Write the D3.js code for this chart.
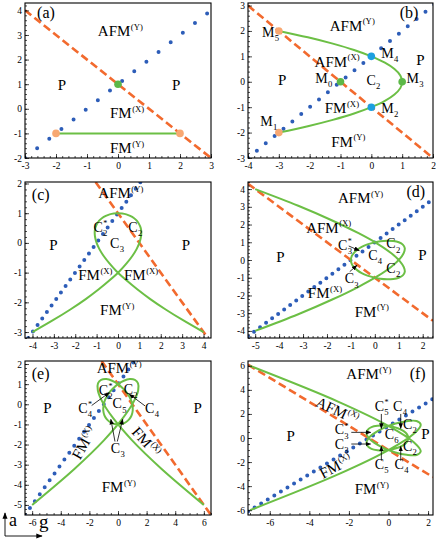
<!DOCTYPE html>
<html>
<head>
<meta charset="utf-8">
<script src="https://cdnjs.cloudflare.com/ajax/libs/d3/7.8.5/d3.min.js"></script>
<style>
  body { margin: 0; background: #fff; }
  svg { display: block; }
  text { font-family: "Liberation Serif", "Times New Roman", serif; fill: #000; }
</style>
</head>
<body>
<svg id="chart" width="436" height="540"></svg>
<script>
// ---------- data (g on x, a on y), one entry per panel (a)..(f) ----------
const panelNames = ["(a)", "(b)", "(c)", "(d)", "(e)", "(f)"];

const gRanges = [[-3, 3], [-4, 2], [-4.35, 4.35], [-5.3, 2.43], [-6.5, 6.5], [-7.1, 2.25]];
const aRanges = [[-2, 4.3], [-3, 3.1], [-3.2, 2.05], [-4.4, 4.4], [-5.5, 2.15], [-6.4, 6.4]];

const gTicks = [
  [-3, -2, -1, 0, 1, 2, 3],
  [-4, -3, -2, -1, 0, 1, 2],
  [-4, -3, -2, -1, 0, 1, 2, 3, 4],
  [-5, -4, -3, -2, -1, 0, 1, 2],
  [-6, -4, -2, 0, 2, 4, 6],
  [-6, -4, -2, 0, 2]
];
const aTicks = [
  [-2, -1, 0, 1, 2, 3, 4],
  [-3, -2, -1, 0, 1, 2, 3],
  [-3, -2, -1, 0, 1, 2],
  [-4, -3, -2, -1, 0, 1, 2, 3, 4],
  [-5, -4, -3, -2, -1, 0, 1, 2],
  [-6, -4, -2, 0, 2, 4, 6]
];
const minorSteps = [[0.2, 0.2], [0.2, 0.2], [0.2, 0.2], [0.2, 0.2], [0.5, 0.2], [0.5, 0.5]];

// blue dotted line a = g + 1 type boundary
const blueLines = [
  [[-3, -2], [3.3, 4.3]],
  [[-4, -3], [2.1, 3.1]],
  [[-4.2, -3.2], [1.05, 2.05]],
  [[-5.3, -4.3], [2.43, 3.43]],
  [[-6.5, -5.5], [1.15, 2.15]],
  [[-7.1, -6.1], [2.25, 3.25]]
];
// orange dashed line
const orangeLines = [
  [[-3, 4], [3, -2]],
  [[-4, 3], [2, -3]],
  [[-1.05, 2.05], [4.2, -3.2]],
  [[-5.3, 4.3], [2.43, -3.43]],
  [[-1.15, 2.15], [6.5, -5.5]],
  [[-7.1, 6.1], [2.25, -3.25]]
];

// green boundary curves
const greenA = [[-2, -1], [2, -1]];
const greenB = [[-3, -2], [-2.06, -1.75], [-1.25, -1.5], [-0.56, -1.25], [0, -1], [0.44, -0.75], [0.75, -0.5],
  [0.94, -0.25], [1, 0], [0.94, 0.25], [0.75, 0.5], [0.44, 0.75], [0, 1], [-0.56, 1.25], [-1.25, 1.5],
  [-2.06, 1.75], [-3, 2]];
const greenC = [[4, -3], [3.06, -2.61], [2.23, -2.24], [1.51, -1.89], [0.90, -1.56], [0.38, -1.25], [-0.06, -0.96],
  [-0.40, -0.69], [-0.67, -0.44], [-0.87, -0.21], [-1, 0], [-1.07, 0.19], [-1.09, 0.36], [-1.06, 0.51],
  [-0.98, 0.64], [-0.88, 0.75], [-0.74, 0.84], [-0.57, 0.91], [-0.39, 0.96], [-0.20, 0.99], [0, 1],
  [0.20, 0.99], [0.39, 0.96], [0.57, 0.91], [0.74, 0.84], [0.88, 0.75], [0.98, 0.64], [1.06, 0.51],
  [1.09, 0.36], [1.07, 0.19], [1, 0], [0.87, -0.21], [0.67, -0.44], [0.40, -0.69], [0.06, -0.96],
  [-0.38, -1.25], [-0.90, -1.56], [-1.51, -1.89], [-2.23, -2.24], [-3.06, -2.61], [-4, -3]];
const greenD = [[-5, 4], [-3.20, 3.06], [-1.78, 2.23], [-0.68, 1.51], [0.13, 0.90], [0.69, 0.38], [1.04, -0.06],
  [1.21, -0.40], [1.25, -0.67], [1.17, -0.87], [1, -1], [0.77, -1.07], [0.51, -1.09], [0.23, -1.06],
  [-0.05, -0.98], [-0.31, -0.88], [-0.55, -0.74], [-0.74, -0.57], [-0.88, -0.39], [-0.97, -0.20], [-1, 0],
  [-0.97, 0.20], [-0.88, 0.39], [-0.74, 0.57], [-0.55, 0.74], [-0.31, 0.88], [-0.05, 0.98], [0.23, 1.06],
  [0.51, 1.09], [0.77, 1.07], [1, 1], [1.17, 0.87], [1.25, 0.67], [1.21, 0.40], [1.04, 0.06], [0.69, -0.38],
  [0.13, -0.90], [-0.68, -1.51], [-1.78, -2.23], [-3.20, -3.06], [-5, -4]];
const greenE = [[6, -5], [3.03, -3.20], [0.97, -1.78], [-0.35, -0.68], [-1.10, 0.13], [-1.41, 0.69], [-1.40, 1.04],
  [-1.18, 1.21], [-0.82, 1.25], [-0.41, 1.17], [0, 1], [0.37, 0.77], [0.68, 0.51], [0.90, 0.23], [1.01, -0.05],
  [1.03, -0.31], [0.95, -0.55], [0.79, -0.74], [0.57, -0.88], [0.30, -0.97], [0, -1], [-0.30, -0.97],
  [-0.57, -0.88], [-0.79, -0.74], [-0.95, -0.55], [-1.03, -0.31], [-1.01, -0.05], [-0.90, 0.23], [-0.68, 0.51],
  [-0.37, 0.77], [0, 1], [0.41, 1.17], [0.82, 1.25], [1.18, 1.21], [1.40, 1.04], [1.41, 0.69], [1.10, 0.13],
  [0.35, -0.68], [-0.97, -1.78], [-3.03, -3.20], [-6, -5]];
const greenF = [[-7, 6], [-2.55, 3.03], [0.04, 0.97], [1.28, -0.35], [1.63, -1.10], [1.42, -1.41], [0.92, -1.40],
  [0.31, -1.18], [-0.26, -0.82], [-0.71, -0.41], [-1, 0], [-1.11, 0.37], [-1.05, 0.68], [-0.86, 0.90],
  [-0.56, 1.01], [-0.20, 1.03], [0.16, 0.95], [0.50, 0.79], [0.77, 0.57], [0.94, 0.30], [1, 0], [0.94, -0.30],
  [0.77, -0.57], [0.50, -0.79], [0.16, -0.95], [-0.20, -1.03], [-0.56, -1.01], [-0.86, -0.90], [-1.05, -0.68],
  [-1.11, -0.37], [-1, 0], [-0.71, 0.41], [-0.26, 0.82], [0.31, 1.18], [0.92, 1.40], [1.42, 1.41], [1.63, 1.10],
  [1.28, 0.35], [0.04, -0.97], [-2.55, -3.03], [-7, -6]];
const greenCurves = [greenA, greenB, greenC, greenD, greenE, greenF];

// special points: [g, a, kind]
const markersA = [[0, 1, "green"], [-2, -1, "peach"], [2, -1, "peach"]];
const markersB = [[-3, 2, "peach"], [-3, -2, "peach"], [0, 1, "cyan"], [0, -1, "cyan"], [-1, 0, "green"], [1, 0, "green"]];
const markers = [markersA, markersB, [], [], [], []];

// phase labels: [text, subscript, superscript, g, a, rotation]
const labelsA = [["AFM", "", "(Y)", -0.65, 2.96], ["P", "", "", -1.94, 0.76], ["P", "", "", 1.74, 0.76],
  ["FM", "", "(X)", -0.26, -0.38], ["FM", "", "(Y)", -0.26, -1.8]];
const labelsB = [["AFM", "", "(Y)", -1.35, 2.01], ["AFM", "", "(X)", -1.84, 0.6], ["P", "", "", -3.03, -0.13],
  ["P", "", "", 1.46, 0.66], ["M", "0", "", -1.82, -0.06], ["C", "2", "", -0.16, -0.13], ["M", "3", "", 1.14, -0.06],
  ["M", "4", "", 0.32, 0.93], ["M", "2", "", 0.32, -1.24], ["FM", "", "(X)", -1.51, -1.24],
  ["FM", "", "(Y)", -1.3, -2.55], ["M", "5", "", -3.55, 1.78], ["M", "1", "", -3.6, -1.75]];
const labelsC = [["AFM", "", "(Y)", -0.92, 1.5], ["C", "2", "*", -1.15, 0.38], ["C", "2", "", 0.48, 0.38],
  ["C", "3", "", -0.37, -0.18], ["P", "", "", -3.21, -0.24], ["P", "", "", 2.98, -0.24],
  ["FM", "", "(X)", -1.86, -1.25], ["FM", "", "(X)", 0.28, -1.25], ["FM", "", "(Y)", -0.84, -2.42]];
const labelsD = [["AFM", "", "(Y)", -1.54, 3.2], ["AFM", "", "(X)", -2.87, 1.54], ["C", "3", "*", -1.54, 0.56],
  ["C", "4", "", -0.28, 0], ["C", "2", "", 0.48, 0.66], ["C", "2", "", 0.48, -0.75], ["P", "", "", 1.81, 0],
  ["P", "", "", -4.12, -0.1], ["C", "3", "", -1.26, -1.32], ["FM", "", "(X)", -2.8, -2.16],
  ["FM", "", "(Y)", -0.84, -3.2]];
const labelsE = [["AFM", "", "(Y)", -1.49, 1.55], ["C", "2", "*", -1.35, 0.45], ["C", "2", "", 0.4, 0.52],
  ["C", "5", "", -0.38, -0.2], ["C", "4", "*", -2.78, -0.42], ["C", "4", "", 1.89, -0.42],
  ["P", "", "", -5.22, -0.43], ["P", "", "", 5.27, -0.43], ["FM", "", "(X)", -2.66, -2.79, -60],
  ["FM", "", "(X)", 0.9, -1.4, 48], ["C", "3", "", -0.5, -2.43], ["FM", "", "(Y)", -1.14, -4.36]];
const labelsF = [["AFM", "", "(Y)", -2.13, 4.9], ["AFM", "", "(X)", -3.73, 2.69, 25], ["P", "", "", -5.16, -0.22],
  ["P", "", "", 1.66, -0.08], ["C", "5", "*", -0.7, 2.27], ["C", "4", "", 0.23, 2.27], ["C", "2", "", 0.73, 0.75],
  ["C", "3", "*", -2.72, 0.3], ["C", "6", "", -0.19, -0.08], ["C", "3", "", -2.72, -0.88],
  ["C", "2", "", 0.73, -1.05], ["C", "5", "", -0.7, -2.58], ["C", "4", "", 0.31, -2.58],
  ["FM", "", "(X)", -3.31, -3.41, -28], ["FM", "", "(Y)", -1.71, -4.66]];
const labels = [labelsA, labelsB, labelsC, labelsD, labelsE, labelsF];
// where the panel tag "(a)" etc sits
const tagPos = [[-2.61, 3.69], [0.92, 2.51], [-4.03, 1.45], [1.32, 3.58], [-6.03, 1.28], [1.07, 4.9]];

// pointer arrows: [[g0, a0], [g1, a1]]
const arrows = [[], [], [],
  [[[-1.09, 0.79], [-0.65, 0.53]], [[-1.05, -0.66], [-0.75, -0.3]]],
  [[[-1.84, -0.06], [-0.61, 0.58]], [[1.89, -0.08], [0.79, 0.5]], [[-0.21, -1.85], [-0.5, -0.75]],
   [[-0.05, -1.85], [0.33, -0.75]]],
  [[[-0.36, 2.0], [-0.36, 0.8]], [[0.62, 2.0], [0.62, 0.8]], [[-1.88, 0.47], [-0.9, 0.47]],
   [[-1.88, -0.5], [-0.9, -0.5]], [[-0.36, -1.89], [-0.36, -0.7]], [[0.62, -1.89], [0.62, -0.7]]]
];

// ---------- layout / style ----------
const frames = [
  { x0: 25, x1: 211, y0: 3, y1: 158 }, { x0: 248, x1: 433, y0: 3, y1: 158 },
  { x0: 25, x1: 211, y0: 182, y1: 338 }, { x0: 248, x1: 433, y0: 182, y1: 338 },
  { x0: 25, x1: 211, y0: 361, y1: 515 }, { x0: 248, x1: 433, y0: 361, y1: 515 }
];
const dotGap = [15.5, 11.5, 8, 7.5, 8.5, 7.7];
const colors = { blue: "#2d5db8", orange: "#f26a2e", green: "#6cbf45", peach: "#f8a872", cyan: "#1c9fe0", dot: "#5cb848" };
const markerFill = { green: colors.dot, peach: colors.peach, cyan: colors.cyan };

const svg = d3.select("#chart");
svg.append("rect").attr("width", 436).attr("height", 540).attr("fill", "#fff");
const defs = svg.append("defs");
defs.append("marker").attr("id", "arr")
  .attr("viewBox", "0 0 10 10").attr("refX", 9).attr("refY", 5)
  .attr("markerWidth", 7).attr("markerHeight", 7).attr("orient", "auto")
  .append("path").attr("d", "M0,1L10,5L0,9z").attr("fill", "#000");

function addLabel(parent, px, py, main, sub, sup, size, rot) {
  const t = parent.append("g").attr("transform", `translate(${px},${py}) rotate(${rot || 0})`);
  const m = t.append("text").attr("font-size", size).text(main);
  const w = m.node().getComputedTextLength();
  if (sup) t.append("text").attr("x", w + 0.5).attr("y", -size * 0.42).attr("font-size", size * 0.58).text(sup);
  if (sub) t.append("text").attr("x", w + 0.3).attr("y", size * 0.3).attr("font-size", size * 0.62).text(sub);
}

panelNames.forEach((name, i) => {
  const f = frames[i];
  const x = d3.scaleLinear().domain(gRanges[i]).range([f.x0, f.x1]);
  const y = d3.scaleLinear().domain(aRanges[i]).range([f.y1, f.y0]);
  const line = d3.line().x(d => x(d[0])).y(d => y(d[1]));
  const g = svg.append("g");

  defs.append("clipPath").attr("id", "clip" + i)
    .append("rect").attr("x", f.x0).attr("y", f.y0).attr("width", f.x1 - f.x0).attr("height", f.y1 - f.y0);
  const plot = g.append("g").attr("clip-path", `url(#clip${i})`);

  plot.append("path").datum(blueLines[i]).attr("d", line)
    .attr("fill", "none").attr("stroke", colors.blue).attr("stroke-width", 4)
    .attr("stroke-linecap", "round").attr("stroke-dasharray", `0 ${dotGap[i]}`);
  plot.append("path").datum(orangeLines[i]).attr("d", line)
    .attr("fill", "none").attr("stroke", colors.orange).attr("stroke-width", 2.6)
    .attr("stroke-dasharray", "8 4");
  plot.append("path").datum(greenCurves[i])
    .attr("d", line.curve(d3.curveCatmullRom.alpha(0.5)))
    .attr("fill", "none").attr("stroke", colors.green).attr("stroke-width", 2);

  plot.selectAll("circle.mk").data(markers[i]).join("circle")
    .attr("cx", d => x(d[0])).attr("cy", d => y(d[1])).attr("r", 3.8)
    .attr("fill", d => markerFill[d[2]]);

  // axes: major + minor ticks pointing inward
  const [gs, as] = minorSteps[i];
  const gMinor = d3.range(Math.ceil(gRanges[i][0] / gs) * gs, gRanges[i][1] + 1e-9, gs);
  const aMinor = d3.range(Math.ceil(aRanges[i][0] / as) * as, aRanges[i][1] + 1e-9, as);

  const xAxis = g.append("g").attr("transform", `translate(0,${f.y1})`)
    .call(d3.axisBottom(x).tickValues(gTicks[i]).tickSizeInner(-4).tickSizeOuter(0).tickPadding(4).tickFormat(d => String(d)));
  const xMinor = g.append("g").attr("transform", `translate(0,${f.y1})`)
    .call(d3.axisBottom(x).tickValues(gMinor).tickSizeInner(-2).tickSizeOuter(0).tickFormat(""));
  const yAxis = g.append("g").attr("transform", `translate(${f.x0},0)`)
    .call(d3.axisLeft(y).tickValues(aTicks[i]).tickSizeInner(-4).tickSizeOuter(0).tickPadding(3).tickFormat(d => String(d)));
  const yMinor = g.append("g").attr("transform", `translate(${f.x0},0)`)
    .call(d3.axisLeft(y).tickValues(aMinor).tickSizeInner(-2).tickSizeOuter(0).tickFormat(""));
  [xAxis, xMinor, yAxis, yMinor].forEach(ax => {
    ax.select(".domain").remove();
    ax.attr("font-family", null).attr("font-size", null);
    ax.selectAll("line").attr("stroke", "#000").attr("stroke-width", 0.7);
    ax.selectAll("text").attr("font-size", 9.5);
  });

  g.append("rect").attr("x", f.x0).attr("y", f.y0).attr("width", f.x1 - f.x0).attr("height", f.y1 - f.y0)
    .attr("fill", "none").attr("stroke", "#000").attr("stroke-width", 1.1);

  // labels
  addLabel(g, x(tagPos[i][0]), y(tagPos[i][1]), name, "", "", 16, 0);
  labels[i].forEach(d => {
    const size = (d[0] === "C" || d[0] === "M") ? 14 : 15;
    addLabel(g, x(d[3]), y(d[4]), d[0], d[1], d[2], size, d[5]);
  });
  arrows[i].forEach(d => {
    g.append("line")
      .attr("x1", x(d[0][0])).attr("y1", y(d[0][1])).attr("x2", x(d[1][0])).attr("y2", y(d[1][1]))
      .attr("stroke", "#000").attr("stroke-width", 0.8).attr("marker-end", "url(#arr)");
  });
});

// axis-direction key in the lower left corner
const key = svg.append("g");
key.append("line").attr("x1", 5).attr("y1", 536).attr("x2", 5).attr("y2", 513)
  .attr("stroke", "#000").attr("stroke-width", 0.9).attr("marker-end", "url(#arr)");
key.append("line").attr("x1", 5).attr("y1", 536).attr("x2", 42).attr("y2", 536)
  .attr("stroke", "#000").attr("stroke-width", 0.9).attr("marker-end", "url(#arr)");
key.append("text").attr("x", 9).attr("y", 526).attr("font-size", 18).text("a");
key.append("text").attr("x", 39).attr("y", 528).attr("font-size", 19).text("g");
</script>
</body>
</html>
